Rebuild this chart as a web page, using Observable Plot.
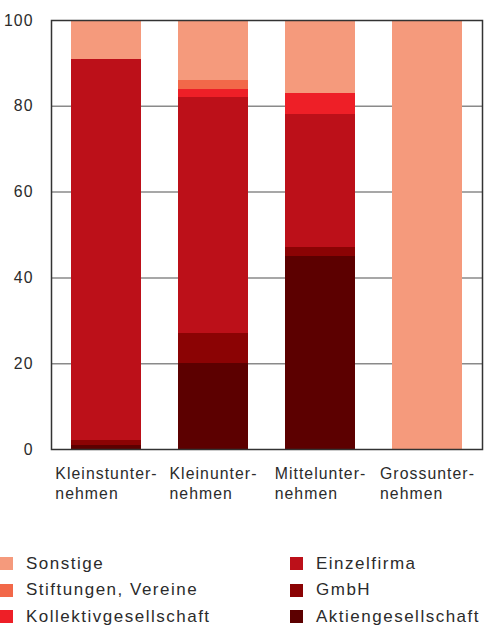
<!DOCTYPE html>
<html><head><meta charset="utf-8">
<script src="https://cdn.jsdelivr.net/npm/d3@7"></script>
<script src="https://cdn.jsdelivr.net/npm/@observablehq/plot@0.6"></script>
<style>
body{margin:0;background:#fff;font-family:"Liberation Sans",Arial,sans-serif;color:#2b2b2b;width:488px;height:628px;overflow:hidden;}
#chart svg{display:block;}
#legend{display:grid;grid-template-columns:290px 198px;grid-auto-flow:column;grid-template-rows:repeat(3,26.5px);margin-top:30.5px;font-size:17px;letter-spacing:1.5px;}
.item{display:flex;align-items:center;white-space:nowrap;}
.sw{width:13px;height:13px;margin-right:13px;flex:none;}
</style></head><body><div id="chart"></div><div id="legend"></div>
<script>
const categories = ["Kleinstunternehmen","Kleinunternehmen","Mittelunternehmen","Grossunternehmen"];
const labelLine1 = ["Kleinstunter-","Kleinunter-","Mittelunter-","Grossunter-"];
const labelLine2 = ["nehmen","nehmen","nehmen","nehmen"];
const types = ["Aktiengesellschaft","GmbH","Einzelfirma","Kollektivgesellschaft","Stiftungen, Vereine","Sonstige"];
const colors = ["#5c0000","#8b0304","#bc1019","#ee1f27","#f26849","#f59a7c"];
const aktiengesellschaft = [1, 20, 45, 0];
const gmbh = [1, 7, 2, 0];
const einzelfirma = [89, 55, 31, 0];
const kollektivgesellschaft = [0, 2, 5, 0];
const stiftungen = [0, 2, 0, 0];
const sonstige = [9, 14, 17, 100];
const yTicks = [0, 20, 40, 60, 80, 100];
const gridTicks = [20, 40, 60, 80];
const legendOrder = ["Sonstige","Stiftungen, Vereine","Kollektivgesellschaft","Einzelfirma","GmbH","Aktiengesellschaft"];

const series = [aktiengesellschaft, gmbh, einzelfirma, kollektivgesellschaft, stiftungen, sonstige];
const data = [];
types.forEach((t, i) => categories.forEach((c, j) => data.push({category: c, type: t, value: series[i][j]})));

const FONT = "Liberation Sans";
const FS = 15.8;
const LS = 1.05;
const ctx = document.createElement("canvas").getContext("2d");
ctx.font = `${FS}px "${FONT}"`;
const textWidth = s => ctx.measureText(s).width + LS * s.length;

const labelMarks = categories.map((c, i) => Plot.text([c], {
  x: d => d,
  text: () => labelLine1[i] + "\n" + labelLine2[i],
  frameAnchor: "bottom",
  lineAnchor: "top",
  textAnchor: "start",
  dx: -textWidth(labelLine1[i]) / 2,
  dy: 15.5,
  lineHeight: 1.27,
  fontSize: FS,
  fill: "#2b2b2b"
}));

const chart = Plot.plot({
  width: 488,
  height: 520,
  marginTop: 20,
  marginBottom: 71,
  marginLeft: 51,
  marginRight: 6,
  style: {fontFamily: FONT, fontSize: FS + "px", color: "#2b2b2b", letterSpacing: LS + "px", background: "#fff"},
  x: {domain: categories, paddingInner: 0.35, paddingOuter: 0.175, axis: null},
  y: {domain: [0, 100]},
  color: {domain: types, range: colors},
  marks: [
    Plot.gridY(gridTicks, {stroke: "#8a8a8a", strokeOpacity: 1, strokeWidth: 1.5}),
    Plot.barY(data, {x: "category", y: "value", fill: "type", order: types, shapeRendering: "crispEdges"}),
    Plot.axisY(yTicks, {tickSize: 0, tickPadding: 18, fontSize: FS, label: null, fill: "#2b2b2b"}),
    ...labelMarks,
    Plot.frame({stroke: "#333", strokeWidth: 1.5})
  ]
});
document.getElementById("chart").appendChild(chart);

const legend = document.getElementById("legend");
legendOrder.forEach(t => {
  const it = document.createElement("div");
  it.className = "item";
  const sw = document.createElement("span");
  sw.className = "sw";
  sw.style.background = colors[types.indexOf(t)];
  const tx = document.createElement("span");
  tx.textContent = t;
  it.appendChild(sw); it.appendChild(tx);
  legend.appendChild(it);
});
</script>
</body></html>
